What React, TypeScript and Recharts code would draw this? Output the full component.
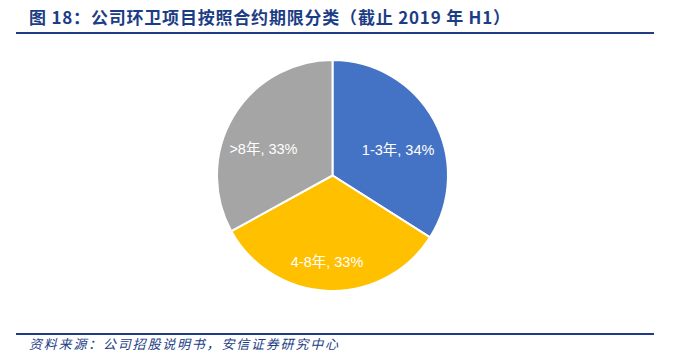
import React from 'react';
import { PieChart, Pie, Cell } from 'recharts';

const categories = ['1-3年', '4-8年', '>8年'];
const shares = [34, 33, 33];

const COLORS = ['#4472C4', '#FFC000', '#A5A5A5'];
// label placement per slice: fraction of radius and angle nudge (deg) away from the mid angle
const LABEL_R = [0.61, 0.75, 0.64];
const LABEL_TURN = [-7.5, -1.8, 9.7];
const RADIAN = Math.PI / 180;

const data = categories.map((name, i) => ({ name, value: shares[i] }));

const renderLabel = (props: any) => {
  const { cx, cy, midAngle, outerRadius, index, name, value } = props;
  const r = outerRadius * LABEL_R[index];
  const a = midAngle + LABEL_TURN[index];
  const x = cx + r * Math.cos(-a * RADIAN);
  const y = cy + r * Math.sin(-a * RADIAN);
  return (
    <text
      x={x}
      y={y}
      fill="#fff"
      textAnchor="middle"
      dominantBaseline="central"
      fontSize={14.5}
      fontFamily="'Liberation Sans', Arial, 'Noto Sans CJK SC', sans-serif"
    >
      {`${name}, ${value}%`}
    </text>
  );
};

export default function App() {
  return (
    <div
      style={{
        position: 'absolute',
        left: 0,
        top: 0,
        width: 688,
        height: 353,
        background: '#fff',
        overflow: 'hidden',
      }}
    >
      <div
        style={{
          position: 'absolute',
          left: 29,
          top: 6,
          fontFamily: "'Noto Sans CJK SC', sans-serif",
          fontWeight: 'bold',
          fontSize: 17,
          lineHeight: '22px',
          color: '#1C3D85',
          whiteSpace: 'nowrap',
          letterSpacing: 0.8,
        }}
      >
        图 18：公司环卫项目按照合约期限分类（截止 2019 年 H1）
      </div>
      <div style={{ position: 'absolute', left: 16, top: 32, width: 638, height: 2, background: '#1F3B84' }} />

      <div style={{ position: 'absolute', left: 0, top: 0 }}>
        <PieChart width={688} height={353} margin={{ top: 0, right: 0, bottom: 0, left: 0 }}>
          <Pie
            data={data}
            dataKey="value"
            nameKey="name"
            cx={332.5}
            cy={175.5}
            outerRadius={115.5}
            startAngle={90}
            endAngle={-270}
            stroke="#fff"
            strokeWidth={2}
            label={renderLabel}
            labelLine={false}
            isAnimationActive={false}
          >
            {data.map((d, i) => (
              <Cell key={d.name} fill={COLORS[i]} />
            ))}
          </Pie>
        </PieChart>
      </div>

      <div style={{ position: 'absolute', left: 16, top: 333, width: 638, height: 2, background: '#1F3B84' }} />
      <div
        style={{
          position: 'absolute',
          left: 29,
          top: 337,
          fontFamily: "'Noto Sans CJK SC', sans-serif",
          fontStyle: 'italic',
          fontSize: 13,
          lineHeight: '14px',
          color: '#1C3D85',
          whiteSpace: 'nowrap',
          letterSpacing: 1.8,
        }}
      >
        资料来源：公司招股说明书，安信证券研究中心
      </div>
    </div>
  );
}
